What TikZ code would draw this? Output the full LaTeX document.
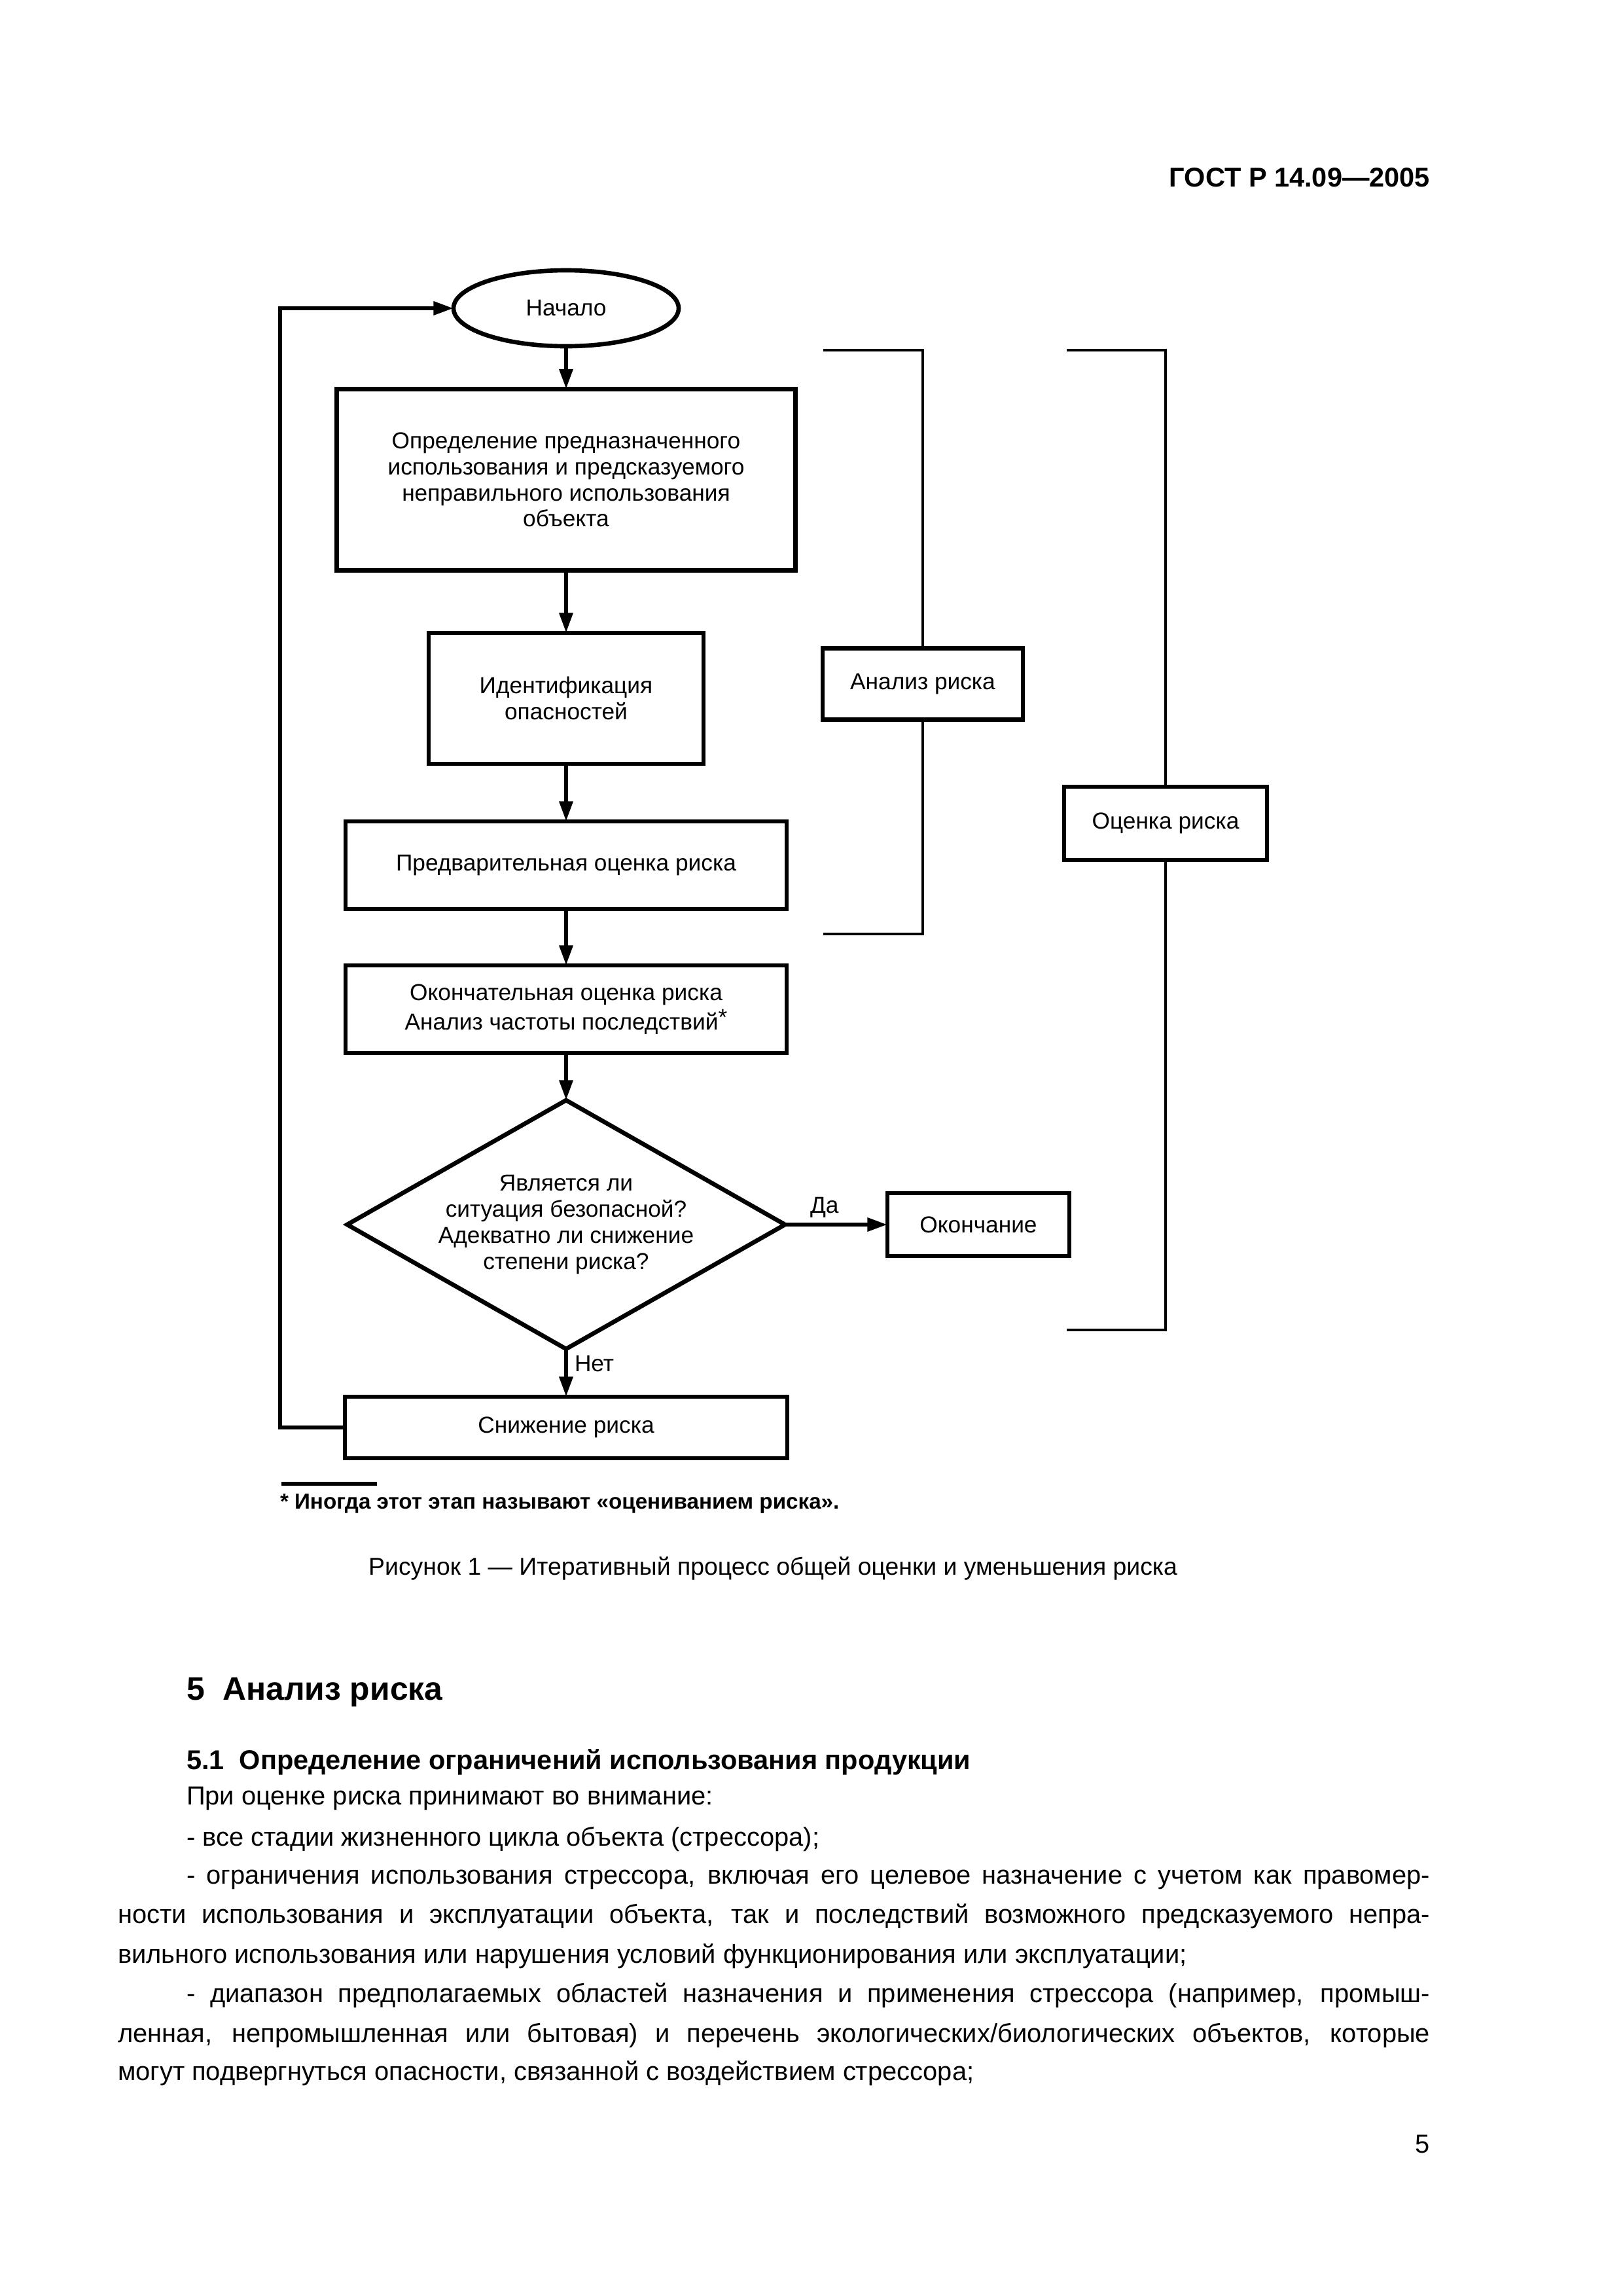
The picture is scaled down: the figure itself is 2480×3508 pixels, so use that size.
\documentclass[tikz,border=0pt]{standalone}
\usepackage{fontspec}
\setmainfont{Liberation Sans}
\usetikzlibrary{arrows.meta,shapes.geometric}
\newdimen\px \px=0.0846774mm
\newcommand\bxf{\fontsize{8.5}{9.6}\selectfont}
\newcommand\bdf{\fontsize{9.6}{12}\selectfont}
\begin{document}
\begin{tikzpicture}[x=0.0846774mm,y=-0.0846774mm,
 every node/.style={inner sep=0pt, outer sep=0pt},
 blk/.style={draw, line width=1.6pt, align=center, font=\bxf},
 arr/.style={line width=1.5pt, -{Triangle[length=2.6mm,width=1.7mm]}},
 brk/.style={line width=1pt},
 lbl/.style={anchor=base west, font=\bxf},
 bodyl/.style={anchor=base west, font=\bdf},
]
\useasboundingbox (0,0) rectangle (2480,3508);

% header
\node[anchor=base east, font=\bfseries\fontsize{10}{12}\selectfont] (hdr) at (2185,285) {ГОСТ Р 14.09—2005};

% flowchart
\node[blk, ellipse, minimum width=344\px, minimum height=116\px] (start) at (865,471) {Начало};
\node[blk, minimum width=701\px, minimum height=277\px] (b1) at (865,733) {Определение предназначенного\\использования и предсказуемого\\неправильного использования\\объекта};
\node[blk, minimum width=420\px, minimum height=200\px] (b2) at (865,1067) {Идентификация\\опасностей};
\node[blk, minimum width=674\px, minimum height=134\px] (b3) at (865,1322) {Предварительная оценка риска};
\node[blk, minimum width=674\px, minimum height=134\px, font=\fontsize{8.5}{10.9}\selectfont] (b4) at (865,1542) {Окончательная оценка риска\\Анализ частоты последствий\raisebox{0.35ex}{*}};
\node[blk, diamond, aspect=1.75, minimum width=669\px, minimum height=380\px] (dec) at (865,1871) {Является ли\\ситуация безопасной?\\Адекватно ли снижение\\степени риска?};
\node[blk, minimum width=278\px, minimum height=96\px] (fin) at (1495,1871) {Окончание};
\node[blk, minimum width=676\px, minimum height=94\px] (red) at (865,2181) {Снижение риска};
\node[blk, minimum width=306\px, minimum height=109\px] (an) at (1410,1045) {Анализ риска};
\node[blk, minimum width=310\px, minimum height=112\px] (oc) at (1781,1258) {Оценка риска};

\draw[arr] (start) -- (b1);
\draw[arr] (b1) -- (b2);
\draw[arr] (b2) -- (b3);
\draw[arr] (b3) -- (b4);
\draw[arr] (b4) -- (dec);
\draw[arr] (dec.east) -- (fin.west);
\draw[arr] (dec.south) -- (red.north);
\coordinate (lp) at (428,2181);
\draw[arr] (red.west) -- (lp) |- (start.west);

\node[lbl] (da) at (1238,1853) {Да};
\node[lbl] (net) at (878,2095) {Нет};

% brackets
\coordinate (a1) at (1258,535);
\coordinate (a2) at (1410,535);
\coordinate (a3) at (1410,1427);
\coordinate (a4) at (1258,1427);
\draw[brk] (a1) -- (a2) -- (an.north);
\draw[brk] (an.south) -- (a3) -- (a4);
\coordinate (c1) at (1630,535);
\coordinate (c2) at (1781,535);
\coordinate (c3) at (1781,2032);
\coordinate (c4) at (1630,2032);
\draw[brk] (c1) -- (c2) -- (oc.north);
\draw[brk] (oc.south) -- (c3) -- (c4);

% footnote and caption
\coordinate (f1) at (430,2267);
\coordinate (f2) at (576,2267);
\draw[line width=1.3pt] (f1) -- (f2);
\node[anchor=base west, font=\bfseries\fontsize{8}{9}\selectfont] (fn) at (428,2305) {* Иногда этот этап называют «оцениванием риска».};
\node[anchor=base, font=\fontsize{9}{10}\selectfont] (cap) at (1181,2406) {Рисунок 1 — Итеративный процесс общей оценки и уменьшения риска};

% body text
\node[anchor=base west, font=\bfseries\fontsize{12}{14}\selectfont] (h5) at (285,2597) {5\ \ Анализ риска};
\node[anchor=base west, font=\bfseries\fontsize{10}{12}\selectfont] (h51) at (285,2703) {5.1\ \ Определение ограничений использования продукции};
\node[bodyl] (l1) at (285,2757) {При оценке риска принимают во внимание:};
\node[bodyl] (l2) at (285,2820) {- все стадии жизненного цикла объекта (стрессора);};
\node[bodyl] (l3) at (285,2878) {\makebox[1900\px][s]{- ограничения использования стрессора, включая его целевое назначение с учетом как правомер-}};
\node[bodyl] (l4) at (180,2938) {\makebox[2005\px][s]{ности использования и эксплуатации объекта, так и последствий возможного предсказуемого непра-}};
\node[bodyl] (l5) at (180,2999) {вильного использования или нарушения условий функционирования или эксплуатации;};
\node[bodyl] (l6) at (285,3059) {\makebox[1900\px][s]{- диапазон предполагаемых областей назначения и применения стрессора (например, промыш-}};
\node[bodyl] (l7) at (180,3120) {\makebox[2005\px][s]{ленная, непромышленная или бытовая) и перечень экологических/биологических объектов, которые}};
\node[bodyl] (l8) at (180,3178) {могут подвергнуться опасности, связанной с воздействием стрессора;};
\node[anchor=base east, font=\bdf] (pg) at (2185,3289) {5};
\end{tikzpicture}
\end{document}
